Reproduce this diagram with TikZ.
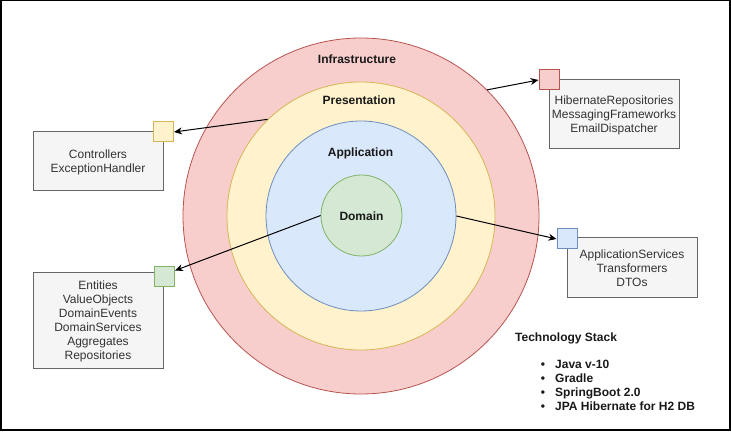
\documentclass[tikz,border=0pt]{standalone}
\usepackage{fontspec}
\setmainfont{Liberation Sans}
\usetikzlibrary{arrows.meta}
\definecolor{redF}{HTML}{F8CECC}
\definecolor{redD}{HTML}{B85450}
\definecolor{yelF}{HTML}{FFF2CC}
\definecolor{yelD}{HTML}{D6B656}
\definecolor{bluF}{HTML}{DAE8FC}
\definecolor{bluD}{HTML}{6C8EBF}
\definecolor{grnF}{HTML}{D5E8D4}
\definecolor{grnD}{HTML}{82B366}
\definecolor{boxF}{HTML}{F5F5F5}
\definecolor{boxD}{HTML}{666666}
\definecolor{boxT}{HTML}{333333}
\tikzset{
  ring/.style={circle, inner sep=0pt, line width=0.8pt},
  ringlbl/.style={font=\fontsize{12}{14}\selectfont\bfseries, text=black!90, inner sep=0pt},
  sq/.style={rectangle, minimum size=20pt, inner sep=0pt, line width=1pt},
  graybox/.style={rectangle, fill=boxF, draw=boxD, line width=1pt, text=boxT, align=center,
    minimum width=130pt, inner sep=0pt, text depth=0pt, font=\fontsize{12}{14}\selectfont},
  arr/.style={-{Stealth[length=8pt,width=7pt]}, line width=1pt, black},
  techtxt/.style={font=\fontsize{12}{14}\selectfont\bfseries, inner sep=0pt, text=black!90}
}
\begin{document}
\begin{tikzpicture}[x=1pt,y=-1pt]
\useasboundingbox (0,0) rectangle (731,438);
\draw[line width=1.5pt] (0.75,0.75) rectangle (729.75,429.75);

% layers
\node[ring, fill=redF, draw=redD, minimum size=356pt] (infra) at (361,216) {};
\node[ring, fill=yelF, draw=yelD, minimum size=268pt] (pres) at (361,216) {};
\node[ring, fill=bluF, draw=bluD, minimum size=190pt] (app) at (361,216) {};
\node[ring, fill=grnF, draw=grnD, minimum size=81pt] (dom) at (361.5,215.5) {};

\node[ringlbl] (linfra) at (357,59.5) {Infrastructure};
\node[ringlbl] (lpres) at (359,100.5) {Presentation};
\node[ringlbl] (lapp) at (360.5,153.5) {Application};
\node[ringlbl] (ldom) at (361.5,216) {Domain};

% boxes
\node[graybox, minimum height=59pt] (ctrl) at (98,161.5) {Controllers\\ExceptionHandler};
\node[graybox, minimum height=95pt] (ent) at (98,320.5) {Entities\\ValueObjects\\DomainEvents\\DomainServices\\Aggregates\\Repositories};
\node[graybox, minimum height=69pt] (hib) at (614,114.5) {HibernateRepositories\\MessagingFrameworks\\EmailDispatcher};
\node[graybox, minimum height=60pt] (aps) at (632,268) {ApplicationServices\\Transformers\\DTOs};

% squares
\node[sq, fill=yelF, draw=yelD] (ysq) at (163.5,132) {};
\node[sq, fill=grnF, draw=grnD] (gsq) at (164.5,276.5) {};
\node[sq, fill=redF, draw=redD] (rsq) at (549,80) {};
\node[sq, fill=bluF, draw=bluD] (bsq) at (567,239) {};

% connectors
\draw[arr] (pres.134) -- (ysq.east);
\draw[arr] (infra.45) -- (rsq.west);
\draw[arr] (dom.west) -- ([yshift=6pt]gsq.east);
\draw[arr] (app.east) -- (bsq.west);

% technology stack
\node[techtxt, anchor=base west] (tshead) at (515,341.3) {Technology Stack};
\node[techtxt, anchor=base] (b1) at (543,368.3) {\textbullet};
\node[techtxt, anchor=base west] (t1) at (555,368.3) {Java v-10};
\node[techtxt, anchor=base] (b2) at (543,382.3) {\textbullet};
\node[techtxt, anchor=base west] (t2) at (555,382.3) {Gradle};
\node[techtxt, anchor=base] (b3) at (543,396.3) {\textbullet};
\node[techtxt, anchor=base west] (t3) at (555,396.3) {SpringBoot 2.0};
\node[techtxt, anchor=base] (b4) at (543,410.3) {\textbullet};
\node[techtxt, anchor=base west] (t4) at (555,410.3) {JPA Hibernate for H2 DB};
\end{tikzpicture}
\end{document}
